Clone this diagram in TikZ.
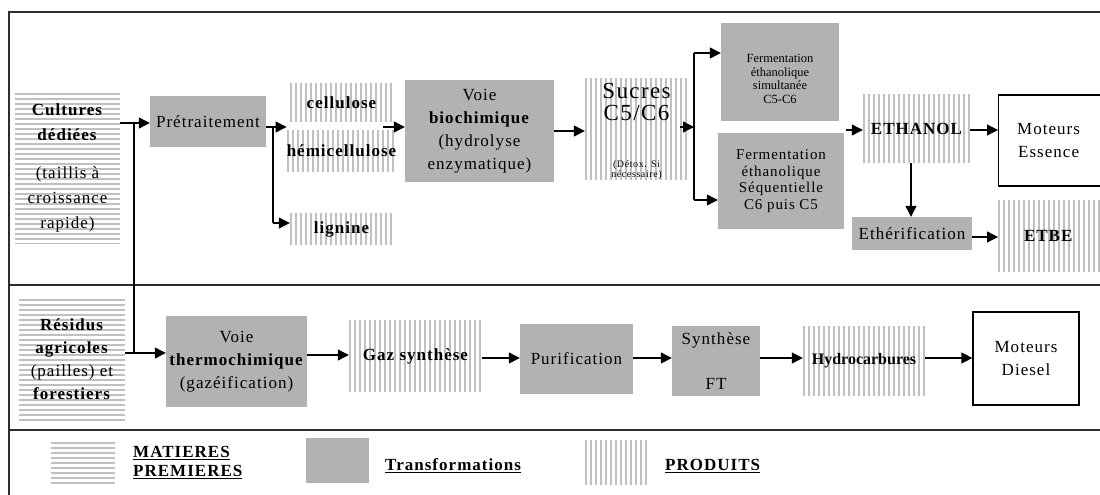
\documentclass[tikz,border=0pt]{standalone}
\usepackage{fontspec}
\setmainfont[LetterSpace=6]{Liberation Serif}
\usetikzlibrary{arrows.meta}
\definecolor{tgray}{RGB}{178,178,178}
\definecolor{sgray}{RGB}{192,192,192}
\definecolor{framec}{RGB}{45,45,45}
\begin{document}
\begin{tikzpicture}[x=1pt,y=-1pt,
 base/.style={font=\fontsize{17}{23}\selectfont, align=center, inner sep=0pt},
 trans/.style={base, fill=tgray},
 hstripes/.style={base, path picture={\foreach \k in {0,...,40}{\draw[sgray, line width=2pt] ([yshift=-\k*5pt-1pt]path picture bounding box.north west) -- ([yshift=-\k*5pt-1pt]path picture bounding box.north east);}}},
 vstripes/.style={base, font=\fontsize{17}{23}\selectfont\bfseries, path picture={\foreach \k in {0,...,50}{\draw[sgray, line width=2pt] ([xshift=\k*5pt+1pt]path picture bounding box.north west) -- ([xshift=\k*5pt+1pt]path picture bounding box.south west);}}},
 outbox/.style={base, draw, line width=1.2pt, fill=white},
 arr/.style={line width=1.2pt, -{Triangle[length=11pt,width=11pt]}},
 ln/.style={line width=1.2pt},
 frameline/.style={line width=1.4pt, draw=framec},
 legtext/.style={base, font=\fontsize{17}{19}\selectfont\bfseries, anchor=west, align=left},
]
\useasboundingbox (0,0) rectangle (1100,495);
\clip (0,0) rectangle (1100,495);
\fill[white] (0,0) rectangle (1100,495);

% frame
\draw[frameline] (9,495) -- (9,12) -- (1100,12);
\draw[frameline] (9,285) -- (1100,285);
\draw[frameline] (9,430) -- (1100,430);

% top row
\node[hstripes, font=\fontsize{17}{25}\selectfont, minimum width=105, minimum height=150] (cult) at (67.5,168) {\textbf{Cultures}\\\textbf{dédiées}\\[13pt](taillis à\\croissance\\rapide)};
\node[trans, minimum width=116, minimum height=51] (pret) at (208,121.5) {Prétraitement};
\node[vstripes, minimum width=103, minimum height=39] (cell) at (341.5,102.5) {cellulose};
\node[vstripes, minimum width=103, minimum height=42] (hemi) at (341.5,151) {hémicellulose};
\node[vstripes, minimum width=103, minimum height=32] (lign) at (341.5,229) {lignine};
\node[trans, minimum width=149, minimum height=102] (bio) at (479.5,131) {Voie\\\textbf{biochimique}\\(hydrolyse\\enzymatique)};
\node[vstripes, minimum width=103, minimum height=102,
  label={[base, font=\fontsize{23}{22}\selectfont, yshift=27pt]center:Sucres\\C5/C6},
  label={[base, font=\fontsize{10}{10}\selectfont, yshift=-41pt]center:(Détox. Si\\nécessaire)}] (suc) at (636.5,129) {};
\node[trans, minimum width=118, minimum height=98,
  label={[base, font=\fontsize{12.5}{13.5}\selectfont\addfontfeature{LetterSpace=0}, yshift=-7pt]center:Fermentation\\éthanolique\\simultanée\\C5-C6}] (fsim) at (780,72) {};
\node[trans, font=\fontsize{15}{16.5}\selectfont, minimum width=126, minimum height=96] (fseq) at (781,181) {Fermentation\\éthanolique\\Séquentielle\\C6 puis C5};
\node[vstripes, minimum width=107, minimum height=69] (eth) at (916.5,128.5) {ETHANOL};
\node[outbox, anchor=west, minimum width=112, minimum height=91, label={[base, xshift=-6pt]center:Moteurs\\Essence}] (ess) at (998,140.5) {};
\node[trans, minimum width=120, minimum height=33] (ether) at (912,233.5) {Ethérification};
\node[vstripes, anchor=west, minimum width=112, minimum height=72, label={[base, font=\fontsize{17}{23}\selectfont\bfseries, xshift=-6pt]center:ETBE}] (etbe) at (998,236) {};

% bottom row
\node[hstripes, minimum width=106, minimum height=121] (res) at (72,359.5) {\textbf{Résidus}\\\textbf{agricoles}\\(pailles) et\\\textbf{forestiers}};
\node[trans, minimum width=141, minimum height=91] (thermo) at (236.5,361.5) {Voie\\\textbf{thermochimique}\\(gazéification)};
\node[vstripes, minimum width=133, minimum height=72] (gaz) at (415.5,356) {Gaz synthèse};
\node[trans, minimum width=113, minimum height=70] (pur) at (576.5,359) {Purification};
\node[trans, minimum width=88, minimum height=70] (ft) at (716,361) {Synthèse\\[22pt]FT};
\node[vstripes, font=\fontsize{16}{20}\selectfont\bfseries\addfontfeature{LetterSpace=0}, minimum width=122, minimum height=70] (hyd) at (864,361) {Hydrocarbures};
\node[outbox, minimum width=106, minimum height=93] (dies) at (1026,358.5) {Moteurs\\Diesel};

% legend
\node[hstripes, minimum width=64, minimum height=41] (lmp) at (83,462.5) {};
\node[legtext] (tmp) at (133,462.5) {\underline{MATIERES}\\\underline{PREMIERES}};
\node[trans, minimum width=63, minimum height=45] (ltr) at (337.5,460.5) {};
\node[legtext] (ttr) at (385,466) {\underline{Transformations}};
\node[vstripes, minimum width=62, minimum height=45] (lpr) at (616,462.5) {};
\node[legtext] (tpr) at (665,466) {\underline{PRODUITS}};

% connectors top
\coordinate (j1) at (134,123);
\coordinate (j2) at (134,353);
\draw[arr] (cult.east |- j1) -- (pret.west |- j1);
\draw[ln] (j1) -- (j2);
\draw[arr] (res.east |- j2) -- (thermo.west |- j2);
\coordinate (j3) at (273,127);
\coordinate (j4) at (273,223);
\draw[arr] (pret.east |- j3) -- (hemi.north west |- j3);
\draw[ln] (j3) -- (j4);
\draw[arr] (j4) -- (lign.west |- j4);
\coordinate (g1) at (383,127);
\draw[arr] (g1) -- (bio.west |- g1);
\coordinate (b1) at (560,131);
\draw[arr] (bio.east |- b1) -- (suc.west |- b1);
\coordinate (s0) at (680,127);
\coordinate (s1) at (694,127);
\coordinate (s2) at (694,53);
\coordinate (s3) at (694,200);
\draw[arr] (s0) -- (s1);
\draw[ln] (s2) -- (s3);
\draw[arr] (s2) -- (fsim.west |- s2);
\draw[arr] (s3) -- (fseq.west |- s3);
\coordinate (e0) at (846,130);
\draw[arr] (e0) -- (eth.west |- e0);
\draw[arr] (eth.east |- e0) -- (ess.west |- e0);
\coordinate (e1) at (911,0);
\draw[arr] (eth.south -| e1) -- (ether.north -| e1);
\coordinate (e2) at (980,237);
\draw[arr] (ether.east |- e2) -- (etbe.west |- e2);

% connectors bottom
\coordinate (k1) at (320,355);
\coordinate (k2) at (500,358);
\draw[arr] (thermo.east |- k1) -- (gaz.west |- k1);
\draw[arr] (gaz.east |- k2) -- (pur.west |- k2);
\draw[arr] (pur.east |- k2) -- (ft.west |- k2);
\draw[arr] (ft.east |- k2) -- (hyd.west |- k2);
\draw[arr] (hyd.east |- k2) -- (dies.west |- k2);
\end{tikzpicture}
\end{document}
